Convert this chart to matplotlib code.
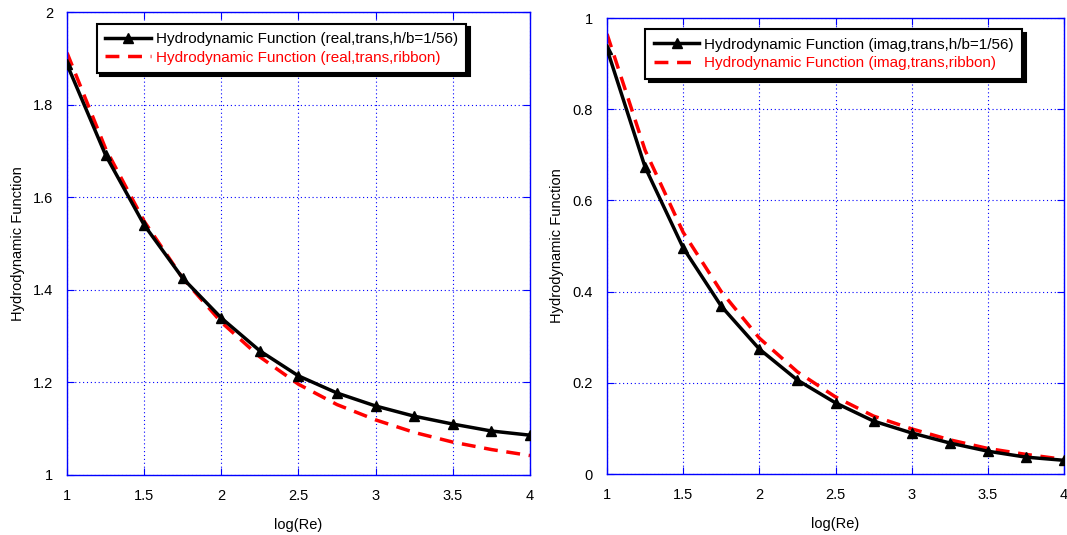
import matplotlib
matplotlib.use("Agg")
import matplotlib.pyplot as plt

plt.rcParams['font.family'] = ['Liberation Sans', 'DejaVu Sans']
plt.rcParams['font.size'] = 10.5

x_log_re = [1.0, 1.25, 1.5, 1.75, 2.0, 2.25, 2.5, 2.75, 3.0, 3.25, 3.5, 3.75, 4.0]

real_h56 = [1.887, 1.691, 1.540, 1.425, 1.339, 1.268, 1.214, 1.177, 1.149, 1.127, 1.110, 1.095, 1.086]
real_ribbon = [1.912, 1.705, 1.548, 1.425, 1.330, 1.255, 1.196, 1.152, 1.119, 1.092, 1.071, 1.055, 1.042]

imag_h56 = [0.932, 0.673, 0.496, 0.368, 0.274, 0.206, 0.156, 0.116, 0.090, 0.068, 0.050, 0.037, 0.030]
imag_ribbon = [0.965, 0.710, 0.530, 0.400, 0.298, 0.224, 0.169, 0.127, 0.099, 0.075, 0.056, 0.043, 0.032]

xticks = [1, 1.5, 2, 2.5, 3, 3.5, 4]
xtick_labels = ['1', '1.5', '2', '2.5', '3', '3.5', '4']
real_yticks = [1, 1.2, 1.4, 1.6, 1.8, 2]
real_ytick_labels = ['1', '1.2', '1.4', '1.6', '1.8', '2']
imag_yticks = [0, 0.2, 0.4, 0.6, 0.8, 1]
imag_ytick_labels = ['0', '0.2', '0.4', '0.6', '0.8', '1']

W, H = 1067, 535
fig = plt.figure(figsize=(W / 100, H / 100), dpi=100)

def px_axes(x0, x1, y0, y1):
    return fig.add_axes([x0 / W, 1 - y1 / H, (x1 - x0) / W, (y1 - y0) / H])

ax1 = px_axes(67, 530, 12, 475)
ax2 = px_axes(607, 1064, 18, 474)

def style(ax, yticks, ylabels, ylim):
    ax.set_xlim(1, 4)
    ax.set_ylim(*ylim)
    ax.set_xticks(xticks)
    ax.set_xticklabels(xtick_labels)
    ax.set_yticks(yticks)
    ax.set_yticklabels(ylabels)
    ax.grid(True, color='blue', linestyle=(0, (1, 2.5)), linewidth=0.8)
    for s in ax.spines.values():
        s.set_color('blue')
        s.set_linewidth(1.0)
    ax.tick_params(direction='in', color='blue', length=5, top=True, right=True,
                   labelsize=10.5, labelcolor='black', pad=10)
    ax.set_xlabel('log(Re)', fontsize=10.5, labelpad=11)
    ax.set_ylabel('Hydrodynamic Function', fontsize=10.5, labelpad=6)

def draw(ax, yb, yr, lb, lr, anchor):
    ax.plot(x_log_re, yb, color='black', linewidth=2.5, marker='^', markersize=7,
            label=lb, zorder=3)
    ax.plot(x_log_re, yr, color='red', linewidth=2.5, linestyle=(0, (4, 2.5)),
            label=lr, zorder=2)
    leg = ax.legend(loc='upper center', bbox_to_anchor=anchor, fancybox=False,
                    framealpha=1, edgecolor='black', handlelength=3.0,
                    borderpad=0.55, labelspacing=0.3, handletextpad=0.3,
                    borderaxespad=0.3, fontsize=11,
                    shadow={'color': 'black', 'alpha': 1, 'ox': 2.5, 'oy': -2.5})
    leg.get_frame().set_linewidth(1.5)
    leg.get_texts()[1].set_color('red')

style(ax1, real_yticks, real_ytick_labels, (1, 2))
style(ax2, imag_yticks, imag_ytick_labels, (0, 1))
draw(ax1, real_h56, real_ribbon,
     'Hydrodynamic Function (real,trans,h/b=1/56)',
     'Hydrodynamic Function (real,trans,ribbon)', (0.463, 0.985))
draw(ax2, imag_h56, imag_ribbon,
     'Hydrodynamic Function (imag,trans,h/b=1/56)',
     'Hydrodynamic Function (imag,trans,ribbon)', (0.496, 0.985))

fig.savefig('out.png', dpi=100)
